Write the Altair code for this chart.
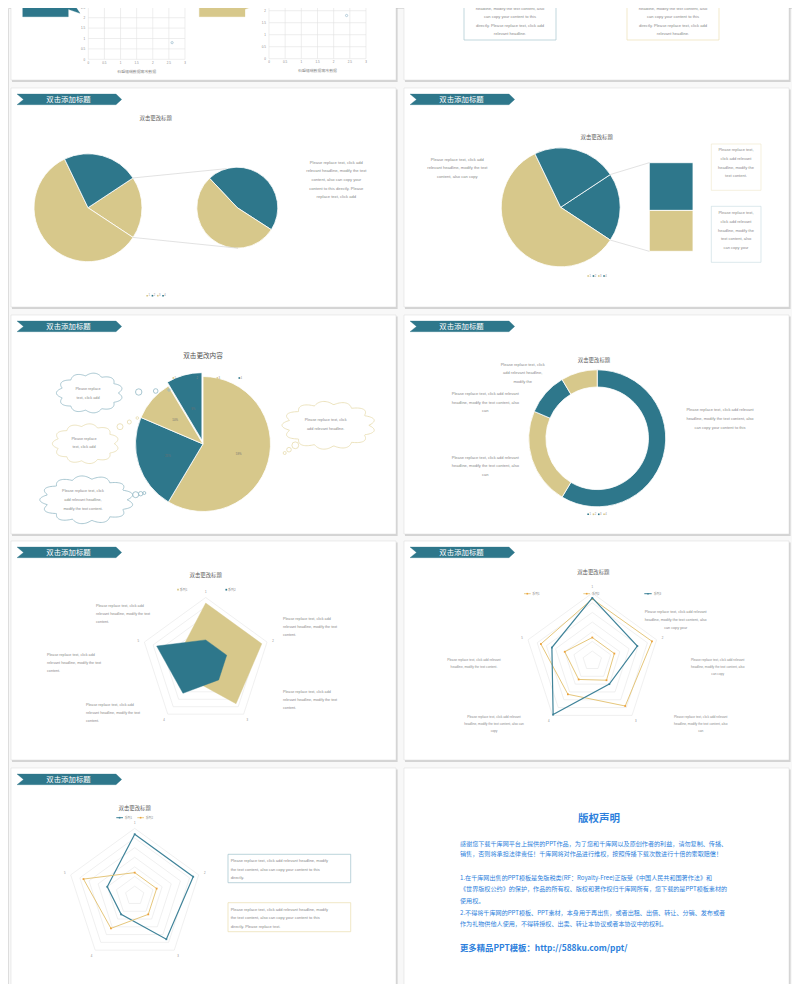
import math
import altair as alt
import pandas as pd

# ---------------- values ----------------
pie_categories = ["1", "2", "3", "4"]
pie_values = [8.2, 3.2, 1.4, 1.2]

radar_axes = ["1", "2", "3", "4", "5"]
radar_series1 = [32, 32, 28, 12, 15]
radar_series2 = [12, 12, 12, 21, 28]
radar_b_series1 = [12, 12, 12.5, 12, 15]
radar_b_series2 = [32, 32.5, 29, 21.5, 28]
radar_b_series3 = [32.5, 24.5, 15, 34.5, 22]
radar_max = 35
radar_step = 5
series_names = ["系列1", "系列2", "系列3"]

scatter_a_x = [0.7, 2.6]
scatter_a_y = [2.7, 0.8]
scatter_b_x = [1.8, 2.4]
scatter_b_y = [2.2, 1.8]
scatter_ticks = [0, 0.5, 1, 1.5, 2, 2.5, 3]
scatter_tick_labels = ["0", "0.5", "1", "1.5", "2", "2.5", "3"]
scatter_axis_title = "石盟幅瑞數据需改數据"
callout_text = "text content"

banner_title = "双击添加标题"
chart_title = "双击更改标题"
chart_title_c = "双击更改内容"

txt_tr = ["Please replace text, click add relevant", "headline, modify the text content, also",
          "can copy your content to this", "directly. Please replace text, click add", "relevant headline."]
txt_a = ["Please replace text, click add", "relevant headline, modify the text",
         "content, also can copy your", "content to this directly. Please", "replace text, click add"]
txt_b_left = ["Please replace text, click add", "relevant headline, modify the text", "content, also can copy"]
txt_b_box1 = ["Please replace text,", "click add relevant", "headline, modify the", "text content."]
txt_b_box2 = ["Please replace text,", "click add relevant", "headline, modify the", "text content, also", "can copy your"]
txt_c_short = ["Please replace", "text, click add"]
txt_c_long = ["Please replace text, click", "add relevant headline,", "modify the text content."]
txt_c_right = ["Please replace text, click", "add relevant headline."]
txt_d1 = ["Please replace text, click", "add relevant headline,", "modify the"]
txt_d2 = ["Please replace text, click add relevant", "headline, modify the text content, also", "can"]
txt_d3 = ["Please replace text, click add relevant", "headline, modify the text content, also",
          "can copy your content to this"]
txt_e = ["Please replace text, click add", "relevant headline, modify the text", "content."]
txt_f1 = ["Please replace text, click add relevant", "headline, modify the text content, also", "can copy your"]
txt_f2 = ["Please replace text, click add relevant", "headline, modify the text content, also", "can copy"]
txt_f3 = ["Please replace text, click add relevant", "headline, modify the text content."]
txt_f4 = ["Please replace text, click add relevant", "headline, modify the text content, also can", "copy"]
txt_f5 = ["Please replace text, click add relevant", "headline, modify the text content, also", "can"]
txt_g1 = ["Please replace text, click add relevant headline, modify",
          "the text content, also can copy your content to this", "directly."]
txt_g2 = ["Please replace text, click add relevant headline, modify",
          "the text content, also can copy your content to this", "directly. Please replace text."]

copyright_title = "版权声明"
copyright_lines = [
    "感谢您下载千库网平台上提供的PPT作品，为了您和千库网以及原创作者的利益，请勿复制、传播、",
    "销售，否则将承担法律责任！千库网将对作品进行维权，按照传播下载次数进行十倍的索取赔偿！",
    "1.在千库网出售的PPT模板是免版税类(RF：Royalty-Free)正版受《中国人民共和国著作法》和",
    "《世界版权公约》的保护，作品的所有权、版权和著作权归千库网所有，您下载的是PPT模板素材的",
    "使用权。",
    "2.不得将千库网的PPT模板、PPT素材，本身用于再出售，或者出租、出借、转让、分销、发布或者",
    "作为礼物供他人使用，不得转授权、出卖、转让本协议或者本协议中的权利。",
]
copyright_line_y = [76, 86.3, 110.3, 121.3, 133, 144.7, 156.3]
copyright_link = "更多精品PPT模板：http://588ku.com/ppt/"

# ---------------- styles ----------------
TEAL = "#2e778b"
GOLD = "#d7c88b"
LINE_GOLD = "#e2c06c"
MARK_ORANGE = "#eea23c"
GRAY = "#8a8a8a"
TITLE_GRAY = "#5e5e5e"
GRID = "#e3e3e3"
BLUE = "#2d7fdc"
FONT_EN = "Liberation Sans"
FONT_CJK = "Noto Sans CJK SC"

OFF = 8
SX = alt.Scale(domain=[8, 792], range=[0, 784], zero=False, nice=False)
SY = alt.Scale(domain=[8, 984], range=[0, 976], zero=False, nice=False)
TH = alt.Scale(domain=[0, 1], range=[0, 2 * math.pi], zero=False, nice=False)


def cx(f="x"):
    return alt.X(f"{f}:Q", scale=SX, axis=None)


def cy(f="y"):
    return alt.Y(f"{f}:Q", scale=SY, axis=None)


layers = []


def add(ch):
    layers.append(ch)


def rects(rows, **mk):
    df = pd.DataFrame(rows, columns=["x", "y", "x2", "y2"])
    add(alt.Chart(df).mark_rect(**mk).encode(x=cx("x"), x2=alt.X2("x2"), y=cy("y"), y2=alt.Y2("y2")))


def polys(rows, **mk):
    df = pd.DataFrame(rows, columns=["g", "i", "x", "y"])
    add(alt.Chart(df).mark_line(**mk).encode(x=cx("x"), y=cy("y"), detail="g:N", order="i:Q"))


def texts(rows, size, color=GRAY, align="center", font=FONT_EN, weight="normal"):
    df = pd.DataFrame(rows, columns=["x", "y", "t"])
    add(alt.Chart(df).mark_text(align=align, baseline="middle", fontSize=size, color=color,
                                font=font, fontWeight=weight)
        .encode(x=cx("x"), y=cy("y"), text="t:N"))


def block(o, x, y0, dy, lines):
    return [(o[0] + x, o[1] + y0 + k * dy, s) for k, s in enumerate(lines)]


def rules(rows, **mk):
    df = pd.DataFrame(rows, columns=["x", "y", "x2", "y2"])
    add(alt.Chart(df).mark_rule(**mk).encode(x=cx("x"), y=cy("y"), x2=alt.X2("x2"), y2=alt.Y2("y2")))


def pie(o, c, r, values, colors, start_deg, inner=0, explode=None):
    total = sum(values)
    acc = start_deg / 360.0
    rows = []
    for i, (v, col) in enumerate(zip(values, colors)):
        f0, f1 = acc, acc + v / total
        acc = f1
        px, py = o[0] + c[0], o[1] + c[1]
        if explode and i in explode:
            mid = (f0 + f1) * math.pi
            px += explode[i] * math.sin(mid)
            py -= explode[i] * math.cos(mid)
        rows.append(dict(x=px, y=py, t0=f0, t1=f1, c=col, v=v))
    df = pd.DataFrame(rows)
    mk = dict(radius=r, stroke="white", strokeWidth=0.8)
    if inner:
        mk["innerRadius"] = inner
    add(alt.Chart(df).mark_arc(**mk).encode(
        x=cx("x"), y=cy("y"),
        theta=alt.Theta("t0:Q", scale=TH, stack=False), theta2=alt.Theta2("t1"),
        color=alt.Color("c:N", scale=None, legend=None)))
    return df


def edge(o, c, r, deg):
    a = math.radians(deg)
    return o[0] + c[0] + r * math.sin(a), o[1] + c[1] - r * math.cos(a)


def mini_legend(o, x, y, colors, step=5.3):
    n = len(colors)
    sq = pd.DataFrame({"x": [o[0] + x + (k - (n - 1) / 2) * step - 1.2 for k in range(n)],
                       "y": [o[1] + y] * n, "c": colors})
    add(alt.Chart(sq).mark_square(size=2.6, opacity=1).encode(
        x=cx("x"), y=cy("y"), color=alt.Color("c:N", scale=None, legend=None)))
    texts([(o[0] + x + (k - (n - 1) / 2) * step + 0.8, o[1] + y, pie_categories[k]) for k in range(n)], 2.6)


def radar(o, c, R, series, label_off=6.3):
    X0, Y0 = o[0] + c[0], o[1] + c[1]
    sx = alt.Scale(domain=[-1, 1], range=[X0 - R - OFF, X0 + R - OFF], zero=False, nice=False)
    sy = alt.Scale(domain=[-1, 1], range=[Y0 - R - OFF, Y0 + R - OFF], zero=False, nice=False)
    n = len(radar_axes)

    def pt(f, j):
        a = 2 * math.pi * j / n
        return f * math.sin(a), -f * math.cos(a)

    enc = dict(x=alt.X("u:Q", scale=sx, axis=None), y=alt.Y("w:Q", scale=sy, axis=None))
    ring = []
    for k in range(1, radar_max // radar_step + 1):
        f = k * radar_step / radar_max
        for j in range(n + 1):
            u, w = pt(f, j % n)
            ring.append(dict(g=k, i=j, u=u, w=w))
    add(alt.Chart(pd.DataFrame(ring)).mark_line(stroke=GRID, strokeWidth=0.55).encode(
        detail="g:N", order="i:Q", **enc))
    for s in series:
        vals = s["values"]
        rows = []
        for j in range(n + 1):
            u, w = pt(vals[j % n] / radar_max, j % n)
            rows.append(dict(i=j, u=u, w=w))
        df = pd.DataFrame(rows)
        if s["kind"] == "fill":
            add(alt.Chart(df).mark_line(fill=s["color"], stroke=s["color"], strokeWidth=0.4)
                .encode(order="i:Q", **enc))
        else:
            add(alt.Chart(df).mark_line(stroke=s["color"], strokeWidth=s.get("width", 0.9))
                .encode(order="i:Q", **enc))
            add(alt.Chart(df.iloc[:n]).mark_point(shape="square", filled=True, size=3.2,
                                                   color=s["marker"], opacity=1).encode(**enc))
    lab = []
    for j, name in enumerate(radar_axes):
        u, w = pt(1 + label_off / R, j)
        lab.append(dict(u=u, w=w, t=name))
    add(alt.Chart(pd.DataFrame(lab)).mark_text(fontSize=2.8, color=GRAY, font=FONT_EN, baseline="middle")
        .encode(text="t:N", **enc))


def cloud(o, c, a, b, color, n=11):
    rows = []
    for k in range(241):
        t = 2 * math.pi * k / 240
        rr = 0.86 + 0.14 * abs(math.sin(n * t / 2))
        rows.append((0, k, o[0] + c[0] + a * rr * math.cos(t), o[1] + c[1] + b * rr * math.sin(t)))
    polys(rows, stroke=color, strokeWidth=0.8)


def bubbles(o, items, color):
    df = pd.DataFrame({"x": [o[0] + p[0] for p in items], "y": [o[1] + p[1] for p in items],
                       "s": [(2 * p[2]) ** 2 for p in items]})
    add(alt.Chart(df).mark_point(shape="circle", filled=False, stroke=color, strokeWidth=0.8, opacity=1)
        .encode(x=cx("x"), y=cy("y"), size=alt.Size("s:Q", scale=None, legend=None)))


def scatter(xs, ys, x0px, x3px, y0px, y3px, title_xy):
    sx = alt.Scale(domain=[0, 3], range=[x0px - OFF, x3px - OFF], zero=False, nice=False)
    sy = alt.Scale(domain=[0, 3], range=[y0px - OFF, y3px - OFF], zero=False, nice=False)
    tk = pd.DataFrame({"t": scatter_ticks, "lab": scatter_tick_labels, "lo": 0, "hi": 3,
                       "px": x0px - 3.2, "py": y0px + 3.5})
    add(alt.Chart(tk).mark_rule(color=GRID, strokeWidth=0.6).encode(
        x=alt.X("t:Q", scale=sx, axis=None), y=alt.Y("lo:Q", scale=sy, axis=None), y2=alt.Y2("hi")))
    add(alt.Chart(tk).mark_rule(color=GRID, strokeWidth=0.6).encode(
        y=alt.Y("t:Q", scale=sy, axis=None), x=alt.X("lo:Q", scale=sx, axis=None), x2=alt.X2("hi")))
    # y tick labels that fall above the top of the page are not visible in the reference
    visible = tk[[y0px + (t / 3) * (y3px - y0px) >= 4 for t in scatter_ticks]]
    add(alt.Chart(visible).mark_text(align="right", baseline="middle", fontSize=3.0, color=GRAY, font=FONT_EN)
        .encode(x=cx("px"), y=alt.Y("t:Q", scale=sy, axis=None), text="lab:N"))
    add(alt.Chart(tk).mark_text(align="center", baseline="middle", fontSize=3.0, color=GRAY, font=FONT_EN)
        .encode(x=alt.X("t:Q", scale=sx, axis=None), y=cy("py"), text="lab:N"))
    pts = pd.DataFrame({"x": xs, "y": ys})
    add(alt.Chart(pts).mark_point(shape="circle", filled=False, size=5, stroke="#7fa8bf", strokeWidth=0.8)
        .encode(x=alt.X("x:Q", scale=sx, axis=None), y=alt.Y("y:Q", scale=sy, axis=None)))
    texts([(title_xy[0], title_xy[1], scatter_axis_title)], 3.9, font=FONT_CJK)


# ---------------- layout ----------------
SW, SH = 385, 219
S_TL, S_TR = (11, -139), (404, -139)
S_A, S_B = (11, 88), (404, 88)
S_C, S_D = (11, 315), (404, 315)
S_E, S_F = (11, 541), (404, 541)
S_G, S_H = (11, 768), (404, 768)
all_slides = [S_TL, S_TR, S_A, S_B, S_C, S_D, S_E, S_F, S_G, S_H]
banner_slides = [S_A, S_B, S_C, S_D, S_E, S_F, S_G]
ZERO = (0, 0)

rects([(o[0] + 1.0, o[1] + 1.5, o[0] + SW + 1.6, o[1] + SH + 2.0) for o in all_slides],
      fill="#bdbdbd", opacity=0.6)
rects([(o[0], o[1], o[0] + SW, o[1] + SH) for o in all_slides], fill="white", stroke="#d8d8d8",
      strokeWidth=0.5)

banner_shape = [(6, 6), (105, 6), (110.7, 11.4), (105, 16.7), (6, 16.7), (12.5, 11.4), (6, 6)]
polys([(g, i, o[0] + x, o[1] + y) for g, o in enumerate(banner_slides)
       for i, (x, y) in enumerate(banner_shape)], fill=TEAL, stroke=TEAL, strokeWidth=0.3)
texts([(o[0] + 57.5, o[1] + 11.6, banner_title) for o in banner_slides], 7.4, color="white", font=FONT_CJK)

# --- top-left slide (scatter charts with callouts), screen coordinates
polys([(0, i, x, y) for i, (x, y) in enumerate(
    [(22.7, -30), (22.7, 16.7), (68.3, 16.7), (68.3, 9.3), (80, 13.3), (70.5, -1), (70.5, -30), (22.7, -30)])],
    fill=TEAL, stroke=TEAL, strokeWidth=0.3)
polys([(0, i, x, y) for i, (x, y) in enumerate(
    [(199.3, -30), (199.3, 16.7), (245, 16.7), (245, 9.3), (254, 6), (246, -1), (246, -30), (199.3, -30)])],
    fill=GOLD, stroke=GOLD, strokeWidth=0.3)
texts([(46.5, 5.2, callout_text), (216.5, 5.2, callout_text)], 3.0, color="white")
scatter(scatter_a_x, scatter_a_y, 88.3, 185, 59.3, -3.1, (136.7, 71.5))
scatter(scatter_b_x, scatter_b_y, 269, 366, 58.7, -13.3, (317.5, 71.2))

# --- top-right slide (text boxes)
rects([(464, -20, 556, 40)], fill="white", stroke="#a6c5cf", strokeWidth=0.7)
rects([(627, -20, 719, 40)], fill="white", stroke="#ecdfb4", strokeWidth=0.7)
texts(block(ZERO, 510, 0.6, 8.3, txt_tr) + block(ZERO, 673, 0.6, 8.3, txt_tr), 4.1)

# --- slide A: pie of pie
texts([(S_A[0] + 144.7, S_A[1] + 30.3, chart_title)], 5.4, color=TITLE_GRAY, font=FONT_CJK)
other = sum(pie_values[2:])
total = sum(pie_values)
start_main = 90 - other / total * 360 / 2
end_main = start_main + other / total * 360
pie(S_A, (77, 119.7), 54, [other, pie_values[0], pie_values[1]], [GOLD, GOLD, TEAL], start_main)
pie(S_A, (226.3, 119.7), 40.5, [pie_values[3], pie_values[2]], [TEAL, GOLD], -43.3)
p1 = edge(S_A, (77, 119.7), 54, start_main)
p2 = edge(S_A, (77, 119.7), 54, end_main)
q1 = edge(S_A, (226.3, 119.7), 40.5, -15.4)
q2 = edge(S_A, (226.3, 119.7), 40.5, 179)
rules([(p1[0], p1[1], q1[0], q1[1]), (p2[0], p2[1], q2[0], q2[1])], color="#cfcfcf", strokeWidth=0.6)
texts(block(S_A, 325.3, 74.7, 8.65, txt_a), 4.1)
mini_legend(S_A, 145.3, 207.7, [GOLD, TEAL, GOLD, TEAL])

# --- slide B: bar of pie
texts([(S_B[0] + 192.7, S_B[1] + 48.7, chart_title)], 5.4, color=TITLE_GRAY, font=FONT_CJK)
pie(S_B, (156.7, 119.3), 59.5, [other, pie_values[0], pie_values[1]], [TEAL, GOLD, TEAL], start_main)
bar_top, bar_bot, bar_l, bar_r = S_B[1] + 74.7, S_B[1] + 163.3, S_B[0] + 245.3, S_B[0] + 289
sb = alt.Scale(domain=[0, other], range=[bar_top - OFF, bar_bot - OFF], zero=False, nice=False)
bar_df = pd.DataFrame({"v": [pie_values[2], pie_values[3]], "i": [0, 1], "c": [TEAL, GOLD],
                       "x": bar_l, "x2": bar_r})
add(alt.Chart(bar_df)
    .transform_stack(stack="v", as_=["v0", "v1"], groupby=[], sort=[alt.SortField("i", order="ascending")])
    .mark_rect(stroke="white", strokeWidth=0.8)
    .encode(x=cx("x"), x2=alt.X2("x2"), y=alt.Y("v0:Q", scale=sb, axis=None), y2=alt.Y2("v1"),
            color=alt.Color("c:N", scale=None, legend=None)))
b1 = edge(S_B, (156.7, 119.3), 59.5, start_main)
b2 = edge(S_B, (156.7, 119.3), 59.5, end_main)
rules([(b1[0], b1[1], bar_l, bar_top), (b2[0], b2[1], bar_l, bar_bot)], color="#cfcfcf", strokeWidth=0.6)
texts(block(S_B, 53.3, 71.7, 8.65, txt_b_left), 4.1)
rects([(S_B[0] + 307.3, S_B[1] + 56, S_B[0] + 357, S_B[1] + 102.3)], fill="white", stroke="#efe6c8",
      strokeWidth=0.6)
rects([(S_B[0] + 307.3, S_B[1] + 118.3, S_B[0] + 357, S_B[1] + 174.3)], fill="white", stroke="#c5d9df",
      strokeWidth=0.6)
texts(block(S_B, 332, 62.3, 8.67, txt_b_box1) + block(S_B, 332, 125, 8.75, txt_b_box2), 4.0)
mini_legend(S_B, 193.3, 188, [GOLD, TEAL, GOLD, TEAL])

# --- slide C: exploded pie with clouds
texts([(S_C[0] + 192, S_C[1] + 41, chart_title_c)], 6.6, color="#505050", font=FONT_CJK)
cdf = pie(S_C, (192, 129), 67.5, pie_values, [GOLD, TEAL, GOLD, TEAL], 0, explode={3: 4})
lab_rows = []
for _, r in cdf.iterrows():
    mid = (r["t0"] + r["t1"]) * math.pi
    lab_rows.append((S_C[0] + 192 + 37 * math.sin(mid), S_C[1] + 129 - 37 * math.cos(mid),
                     f"{round(r['v'] / total * 100)}%"))
texts(lab_rows, 2.8, color="#6f6f6f")
mini_legend(S_C, 196.5, 63, [GOLD, TEAL, GOLD, TEAL], step=22)
TEAL_LIGHT = "#93b9c5"
GOLD_LIGHT = "#e7dcae"
cloud(S_C, (78.7, 78), 33.3, 20, TEAL_LIGHT)
cloud(S_C, (74.7, 128.7), 33.3, 20, GOLD_LIGHT)
cloud(S_C, (75.8, 184.8), 47, 24, TEAL_LIGHT, n=13)
cloud(S_C, (317.7, 110.3), 46.7, 24, GOLD_LIGHT, n=13)
bubbles(S_C, [(127.7, 77, 3.2), (144.7, 76, 2.3), (158, 75, 1.2)], TEAL_LIGHT)
bubbles(S_C, [(109, 111.7, 3.0), (118.3, 107, 2.0), (126.3, 103, 1.3)], GOLD_LIGHT)
bubbles(S_C, [(124.7, 179.7, 3.0), (129.7, 178.7, 2.2), (133.3, 178, 1.5)], TEAL_LIGHT)
bubbles(S_C, [(284.3, 130.3, 3.4), (278, 134.7, 2.3), (273.7, 138, 1.5)], GOLD_LIGHT)
texts(block(S_C, 77, 74.3, 8.4, txt_c_short) + block(S_C, 73, 123.7, 8.6, txt_c_short)
      + block(S_C, 72, 176, 8.8, txt_c_long) + block(S_C, 314.7, 105.3, 8.4, txt_c_right), 3.8)

# --- slide D: doughnut
texts([(S_D[0] + 190, S_D[1] + 44.7, chart_title)], 5.4, color=TITLE_GRAY, font=FONT_CJK)
pie(S_D, (193.2, 123.3), 68.5, pie_values, [TEAL, GOLD, TEAL, GOLD], 0, inner=51.3)
texts(block(S_D, 118.7, 49.7, 8.65, txt_d1) + block(S_D, 81.3, 79, 8.65, txt_d2)
      + block(S_D, 81.3, 142.7, 8.65, txt_d2) + block(S_D, 316, 95.3, 8.65, txt_d3), 4.0)
mini_legend(S_D, 193.3, 199.3, [TEAL, GOLD, TEAL, GOLD])

# --- slide E: filled radar
texts([(S_E[0] + 194.7, S_E[1] + 34.3, chart_title)], 5.4, color=TITLE_GRAY, font=FONT_CJK)
radar(S_E, (194.7, 121), 64.5, [dict(values=radar_series1, kind="fill", color=GOLD),
                                dict(values=radar_series2, kind="fill", color=TEAL)])
leg_e = pd.DataFrame({"x": [S_E[0] + 167, S_E[0] + 215.3], "y": [S_E[1] + 48.7] * 2, "c": [GOLD, TEAL]})
add(alt.Chart(leg_e).mark_square(size=3, opacity=1).encode(
    x=cx("x"), y=cy("y"), color=alt.Color("c:N", scale=None, legend=None)))
texts([(S_E[0] + 168.7, S_E[1] + 48.7, series_names[0]), (S_E[0] + 217, S_E[1] + 48.7, series_names[1])],
      3.0, align="left", font=FONT_CJK)
texts(block(S_E, 85, 65.3, 7.85, txt_e) + block(S_E, 272, 78.3, 7.85, txt_e) + block(S_E, 36, 114, 7.85, txt_e)
      + block(S_E, 272, 151.3, 7.85, txt_e) + block(S_E, 75, 164, 7.85, txt_e), 3.7, align="left")

# --- slide F: line radar with three series
texts([(S_F[0] + 189.3, S_F[1] + 31, chart_title)], 5.4, color=TITLE_GRAY, font=FONT_CJK)
radar(S_F, (188.3, 119.7), 67.6, [
    dict(values=radar_b_series1, kind="line", color=LINE_GOLD, marker=MARK_ORANGE, width=0.9),
    dict(values=radar_b_series2, kind="line", color=LINE_GOLD, marker=MARK_ORANGE, width=0.9),
    dict(values=radar_b_series3, kind="line", color="#3f8399", marker="#3f8399", width=1.2)])
leg_f_lines = [(S_F[0] + 120, S_F[1] + 52.7, S_F[0] + 126.7, S_F[1] + 52.7),
               (S_F[0] + 179.3, S_F[1] + 52.7, S_F[0] + 186, S_F[1] + 52.7)]
rules(leg_f_lines, color=LINE_GOLD, strokeWidth=0.8)
rules([(S_F[0] + 240.3, S_F[1] + 52.7, S_F[0] + 247.7, S_F[1] + 52.7)], color="#3f8399", strokeWidth=1.0)
leg_f = pd.DataFrame({"x": [S_F[0] + 123.3, S_F[0] + 182.7, S_F[0] + 244], "y": [S_F[1] + 52.7] * 3,
                      "c": [MARK_ORANGE, MARK_ORANGE, "#3f8399"]})
add(alt.Chart(leg_f).mark_square(size=2.5, opacity=1).encode(
    x=cx("x"), y=cy("y"), color=alt.Color("c:N", scale=None, legend=None)))
texts([(S_F[0] + 128.3, S_F[1] + 52.7, series_names[0]), (S_F[0] + 188, S_F[1] + 52.7, series_names[1]),
       (S_F[0] + 249.7, S_F[1] + 52.7, series_names[2])], 2.9, align="left", font=FONT_CJK)
texts(block(S_F, 271.7, 71, 7.85, txt_f1), 3.7)
texts(block(S_F, 313.7, 119.3, 6.9, txt_f2) + block(S_F, 70, 119.3, 6.5, txt_f3)
      + block(S_F, 90, 176, 6.85, txt_f4) + block(S_F, 296.7, 176, 6.85, txt_f5), 3.2)

# --- slide G: line radar with two series and boxes
texts([(S_G[0] + 123.7, S_G[1] + 40.3, chart_title)], 5.4, color=TITLE_GRAY, font=FONT_CJK)
radar(S_G, (123.7, 127.7), 67.3, [
    dict(values=radar_series1, kind="line", color="#3f8399", marker="#3f8399", width=1.2),
    dict(values=radar_series2, kind="line", color=LINE_GOLD, marker=MARK_ORANGE, width=0.9)])
rules([(S_G[0] + 105.3, S_G[1] + 49.7, S_G[0] + 112, S_G[1] + 49.7)], color="#3f8399", strokeWidth=1.0)
rules([(S_G[0] + 126.3, S_G[1] + 49.7, S_G[0] + 133, S_G[1] + 49.7)], color=LINE_GOLD, strokeWidth=0.8)
leg_g = pd.DataFrame({"x": [S_G[0] + 108.6, S_G[0] + 129.6], "y": [S_G[1] + 49.7] * 2,
                      "c": ["#3f8399", MARK_ORANGE]})
add(alt.Chart(leg_g).mark_square(size=2.5, opacity=1).encode(
    x=cx("x"), y=cy("y"), color=alt.Color("c:N", scale=None, legend=None)))
texts([(S_G[0] + 113.7, S_G[1] + 49.7, series_names[0]), (S_G[0] + 134.7, S_G[1] + 49.7, series_names[1])],
      2.9, align="left", font=FONT_CJK)
rects([(S_G[0] + 217, S_G[1] + 86.3, S_G[0] + 339.7, S_G[1] + 114.7)], fill="white", stroke="#9fc1cc",
      strokeWidth=0.7)
rects([(S_G[0] + 217, S_G[1] + 134.7, S_G[0] + 339.7, S_G[1] + 163.7)], fill="white", stroke="#eadcae",
      strokeWidth=0.7)
texts(block(S_G, 219.7, 93.3, 8.5, txt_g1) + block(S_G, 219.7, 141.7, 8.65, txt_g2), 4.0, align="left")

# --- slide H: copyright statement
texts([(S_H[0] + 195, S_H[1] + 51.3, copyright_title)], 10.5, color=BLUE, font=FONT_CJK, weight="bold")
texts([(S_H[0] + 56, S_H[1] + y, s) for y, s in zip(copyright_line_y, copyright_lines)], 6.1, color=BLUE,
      align="left", font=FONT_CJK)
texts([(S_H[0] + 56, S_H[1] + 179.7, copyright_link)], 8.4, color=BLUE, align="left", font=FONT_CJK,
      weight="bold")

chart = (alt.layer(*layers)
         .resolve_scale(x="independent", y="independent", theta="independent")
         .properties(width=784, height=976, padding=0, autosize="none")
         .configure_view(stroke=None)
         .configure(background="#f8f8f8"))

chart.save("out.html", embed_options={"renderer": "svg", "actions": False})
